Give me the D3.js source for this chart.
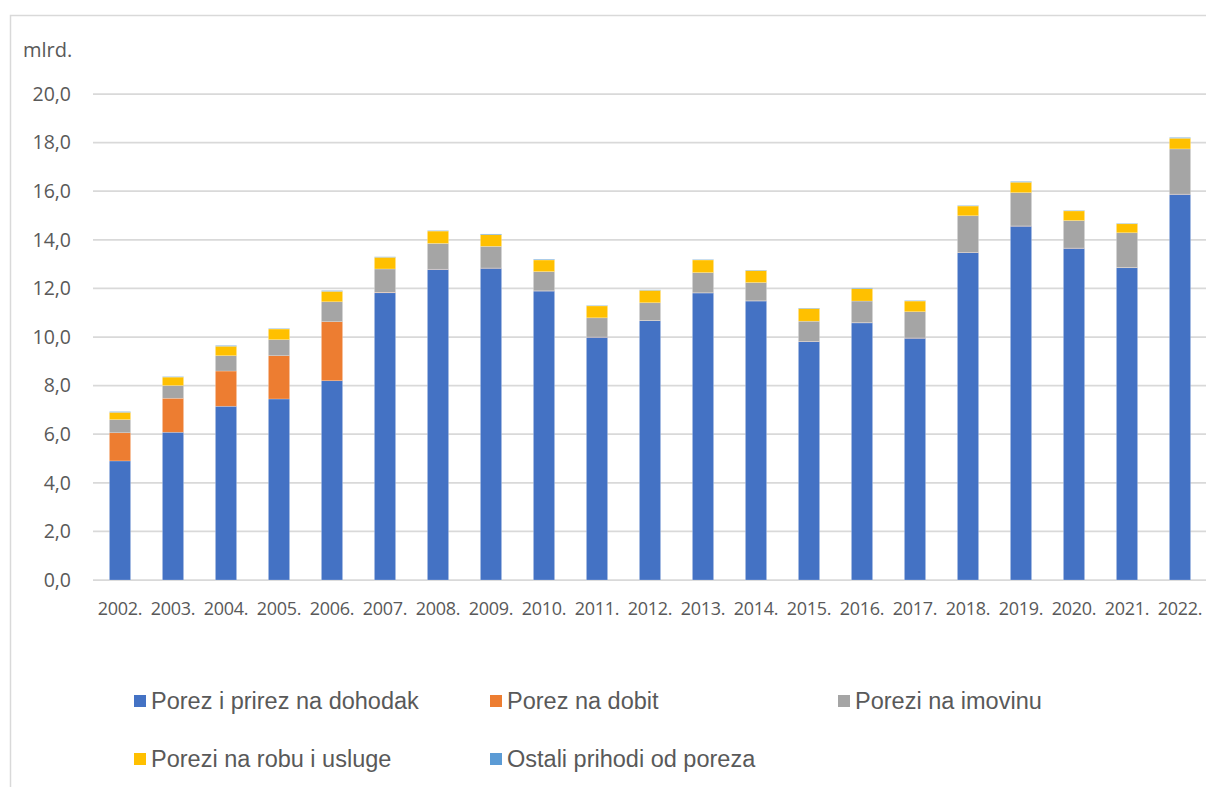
<!DOCTYPE html>
<html>
<head>
<meta charset="utf-8">
<script src="https://cdn.jsdelivr.net/npm/d3@7"></script>
<style>
  body { margin: 0; background: #fff; }
  svg { display: block; }
</style>
</head>
<body>
<svg id="chart" width="1206" height="787"></svg>
<script>
// data (mlrd.)
const years = ["2002.", "2003.", "2004.", "2005.", "2006.", "2007.", "2008.", "2009.", "2010.", "2011.",
  "2012.", "2013.", "2014.", "2015.", "2016.", "2017.", "2018.", "2019.", "2020.", "2021.", "2022."];

const dohodak = [4.90, 6.08, 7.15, 7.45, 8.20, 11.82, 12.78, 12.83, 11.89, 9.99,
  10.67, 11.81, 11.48, 9.81, 10.58, 9.95, 13.47, 14.56, 13.65, 12.85, 15.87];
const dobit = [1.16, 1.40, 1.45, 1.78, 2.43, 0.02, 0.01, 0.01, 0.01, 0.01,
  0.01, 0.01, 0.01, 0.01, 0.01, 0.01, 0.01, 0.01, 0.01, 0.01, 0.01];
const imovina = [0.54, 0.52, 0.63, 0.66, 0.82, 0.96, 1.06, 0.89, 0.79, 0.79,
  0.73, 0.83, 0.75, 0.83, 0.89, 1.08, 1.51, 1.37, 1.13, 1.43, 1.86];
const robaUsluge = [0.30, 0.35, 0.39, 0.44, 0.43, 0.48, 0.51, 0.48, 0.48, 0.49,
  0.51, 0.52, 0.49, 0.52, 0.51, 0.44, 0.40, 0.43, 0.40, 0.37, 0.44];
const ostali = [0.03, 0.02, 0.03, 0.02, 0.03, 0.02, 0.02, 0.03, 0.03, 0.02,
  0.02, 0.02, 0.02, 0.02, 0.03, 0.02, 0.02, 0.03, 0.02, 0.02, 0.03];

const seriesNames = ["Porez i prirez na dohodak", "Porez na dobit", "Porezi na imovinu",
  "Porezi na robu i usluge", "Ostali prihodi od poreza"];
const seriesColors = ["#4472C4", "#ED7D31", "#A5A5A5", "#FFC000", "#5B9BD5"];
const yTicks = [0, 2, 4, 6, 8, 10, 12, 14, 16, 18, 20];

const keys = ["dohodak", "dobit", "imovina", "robaUsluge", "ostali"];
const table = years.map((y, i) => ({
  year: y, dohodak: dohodak[i], dobit: dobit[i], imovina: imovina[i],
  robaUsluge: robaUsluge[i], ostali: ostali[i]
}));

const svg = d3.select("#chart");
const textColor = "#595959";

// outer chart frame
svg.append("rect")
  .attr("x", 10.5).attr("y", 15.5)
  .attr("width", 1400).attr("height", 900)
  .attr("fill", "none")
  .attr("stroke", "#d9d9d9")
  .attr("stroke-width", 1.5);

const x = d3.scaleBand()
  .domain(years)
  .range([93.5, 1206.5])
  .paddingInner(0.6)
  .paddingOuter(0.3);

const y = d3.scaleLinear()
  .domain([0, 20])
  .range([580, 94]);

// gridlines
svg.append("g")
  .selectAll("line")
  .data(yTicks)
  .join("line")
  .attr("x1", 93)
  .attr("x2", 1206)
  .attr("y1", d => y(d))
  .attr("y2", d => y(d))
  .attr("stroke", "#d9d9d9")
  .attr("stroke-width", 1.75);

// y tick labels
svg.append("g")
  .selectAll("text")
  .data(yTicks)
  .join("text")
  .attr("x", 71)
  .attr("y", d => y(d))
  .attr("dy", "0.35em")
  .attr("text-anchor", "end")
  .style("font-family", "'Open Sans', sans-serif")
  .style("font-size", "19.5px")
  .style("fill", textColor)
  .text(d => d.toFixed(1).replace(".", ","));

svg.append("text")
  .attr("x", 23)
  .attr("y", 57)
  .style("font-family", "'Open Sans', sans-serif")
  .style("font-size", "20px")
  .style("fill", textColor)
  .text("mlrd.");

const stack = d3.stack().keys(keys);
const stacked = stack(table);

svg.append("g")
  .selectAll("g")
  .data(stacked)
  .join("g")
  .attr("fill", (d, i) => seriesColors[i])
  .selectAll("rect")
  .data(d => d)
  .join("rect")
  .attr("x", d => x(d.data.year))
  .attr("width", x.bandwidth())
  .attr("y", d => y(d[1]))
  .attr("height", d => y(d[0]) - y(d[1]))
  .attr("stroke", "#fff")
  .attr("stroke-opacity", 0.35)
  .attr("stroke-width", 0.6);

// x labels
svg.append("g")
  .selectAll("text")
  .data(years)
  .join("text")
  .attr("x", d => x(d) + x.bandwidth() / 2)
  .attr("y", 609)
  .attr("dy", "0.35em")
  .attr("text-anchor", "middle")
  .style("font-family", "'Open Sans', sans-serif")
  .style("font-size", "18px")
  .style("letter-spacing", "-0.3px")
  .style("fill", textColor)
  .text(d => d);

// legend
const legendPos = [
  { x: 134, y: 701 }, { x: 490, y: 701 }, { x: 838, y: 701 },
  { x: 134, y: 759 }, { x: 490, y: 759 }
];

const legend = svg.append("g")
  .selectAll("g")
  .data(seriesNames)
  .join("g")
  .attr("transform", (d, i) => `translate(${legendPos[i].x},${legendPos[i].y})`);

legend.append("rect")
  .attr("x", 0)
  .attr("y", -6)
  .attr("width", 12)
  .attr("height", 12)
  .attr("fill", (d, i) => seriesColors[i]);

legend.append("text")
  .attr("x", 17)
  .attr("y", 0)
  .attr("dy", "0.36em")
  .style("font-family", "'Liberation Sans', Arial, sans-serif")
  .style("font-size", "23.5px")
  .style("fill", textColor)
  .text(d => d);
</script>
</body>
</html>
